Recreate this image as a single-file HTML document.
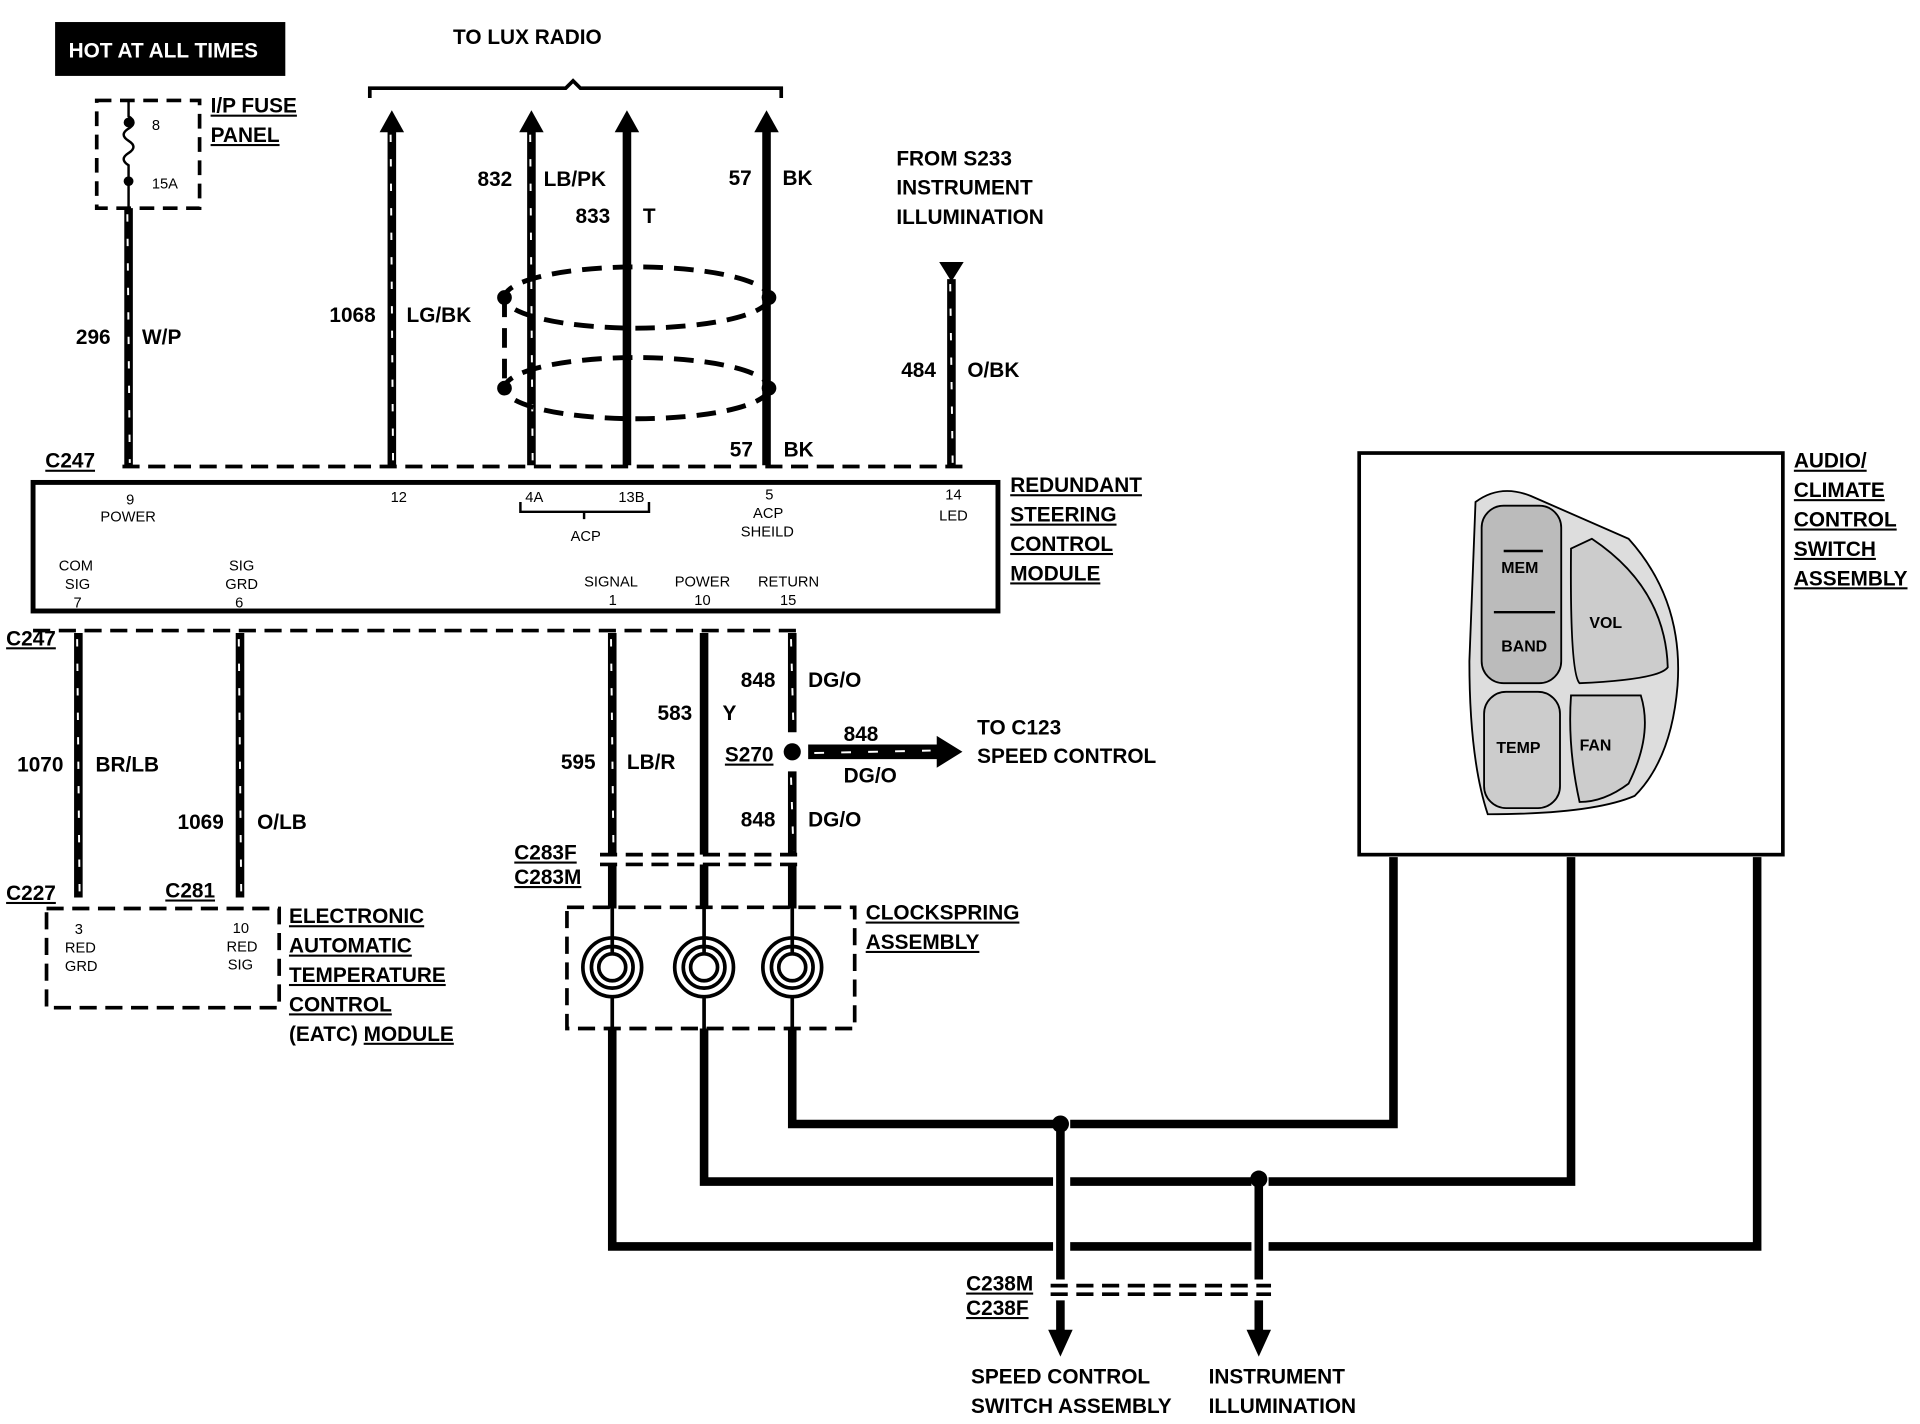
<!DOCTYPE html>
<html><head><meta charset="utf-8"><style>
html,body{margin:0;padding:0;background:#fff;}
svg{display:block;}
text{font-family:"Liberation Sans",sans-serif;font-weight:bold;fill:#000;}
.l{font-size:17px;}
.s{font-size:12px;font-weight:normal;}
.u{text-decoration:underline;}
</style></head><body>
<svg width="1920" height="1424" viewBox="0 0 1568 1163" preserveAspectRatio="none" xmlns="http://www.w3.org/2000/svg">
<defs>
<marker id="ar" markerWidth="6" markerHeight="6" refX="3" refY="3" orient="auto" markerUnits="userSpaceOnUse"></marker>
</defs>
<rect x="45" y="18" width="188" height="44" fill="#000"/>
<text x="56" y="47" style="fill:#fff" class="l" font-weight="normal">HOT AT ALL TIMES</text>
<text x="370" y="36" class="l">TO LUX RADIO</text>
<path d="M302 80 V72 H462 L468 66 L474 72 H638 V80" fill="none" stroke="#000" stroke-width="3"/>
<!-- fuse -->
<rect x="79" y="82" width="84" height="88" fill="none" stroke="#000" stroke-width="3" stroke-dasharray="12 7"/>
<path d="M105 82 V95 q8 5 0 10 q-8 5 0 10 q8 5 0 10 q-8 5 0 10 V170" fill="none" stroke="#000" stroke-width="2"/>
<circle cx="105" cy="100" r="4"/><circle cx="105" cy="148" r="4"/>
<text x="124" y="106" class="s">8</text><text x="124" y="154" class="s">15A</text>
<text x="172" y="92" class="l u">I/P FUSE</text><text x="172" y="116" class="l u">PANEL</text>
<g stroke="#000" stroke-width="7" fill="none">
<line x1="105" y1="170" x2="105" y2="380"/>
<line x1="320" y1="105" x2="320" y2="380"/>
<line x1="434" y1="105" x2="434" y2="380"/>
<line x1="512" y1="105" x2="512" y2="380"/>
<line x1="626" y1="105" x2="626" y2="380"/>
<line x1="777" y1="228" x2="777" y2="380"/>
<line x1="64" y1="517" x2="64" y2="733"/>
<line x1="196" y1="517" x2="196" y2="733"/>
<line x1="500" y1="517" x2="500" y2="698"/>
<line x1="575" y1="517" x2="575" y2="698"/>
<line x1="647" y1="517" x2="647" y2="598"/>
<line x1="647" y1="630" x2="647" y2="698"/>
<line x1="500" y1="706" x2="500" y2="742"/>
<line x1="575" y1="706" x2="575" y2="742"/>
<line x1="647" y1="706" x2="647" y2="742"/>
<path d="M647 840 V918 H860 M874 918 H1138 V700"/>
<path d="M575 840 V965 H860 M874 965 H1022 M1036 965 H1283 V700"/>
<path d="M500 840 V1018 H860 M874 1018 H1022 M1036 1018 H1435 V700"/>
<line x1="866" y1="918" x2="866" y2="1045"/>
<line x1="866" y1="1062" x2="866" y2="1088"/>
<line x1="1028" y1="963" x2="1028" y2="1045"/>
<line x1="1028" y1="1062" x2="1028" y2="1088"/>
</g>
<g fill="#000">
<polygon points="320,90 310,108 330,108"/><polygon points="434,90 424,108 444,108"/>
<polygon points="512,90 502,108 522,108"/><polygon points="626,90 616,108 636,108"/>
<polygon points="767,214 787,214 777,230"/>
<polygon points="866,1108 856,1086 876,1086"/><polygon points="1028,1108 1018,1086 1038,1086"/>
<circle cx="866" cy="918" r="7"/><circle cx="1028" cy="963" r="7"/><circle cx="647" cy="614" r="7"/>
<polygon points="660,608 765,608 765,601 786,614 765,627 765,620 660,620"/>
</g>
<!-- stripes -->
<g stroke="#fff" stroke-width="1.6" stroke-dasharray="6 14">
<line x1="104" y1="175" x2="106" y2="378"/><line x1="319" y1="110" x2="321" y2="378"/>
<line x1="433" y1="110" x2="435" y2="378"/><line x1="776" y1="232" x2="778" y2="378"/>
<line x1="63" y1="522" x2="65" y2="730"/><line x1="195" y1="522" x2="197" y2="730"/>
<line x1="499" y1="522" x2="501" y2="695"/><line x1="646" y1="522" x2="648" y2="595"/>
<line x1="646" y1="635" x2="648" y2="695"/>
<line x1="665" y1="615" x2="760" y2="613" stroke-dasharray="8 14"/>
</g>
<!-- shield ellipses -->
<g fill="none" stroke="#000" stroke-width="4" stroke-dasharray="16 9">
<ellipse cx="520" cy="243" rx="108" ry="25"/><ellipse cx="520" cy="317" rx="108" ry="25"/>
<line x1="412" y1="243" x2="412" y2="317"/>
</g>
<circle cx="412" cy="243" r="6"/><circle cx="412" cy="317" r="6"/><circle cx="628" cy="243" r="6"/><circle cx="628" cy="317" r="6"/>
<!-- dashed connectors -->
<g fill="none" stroke="#000" stroke-width="3" stroke-dasharray="14 7">
<line x1="100" y1="381" x2="790" y2="381"/>
<line x1="27" y1="515" x2="652" y2="515"/>
<line x1="490" y1="698" x2="658" y2="698"/>
<line x1="490" y1="706" x2="658" y2="706"/>
<line x1="858" y1="1050" x2="1038" y2="1050"/>
<line x1="858" y1="1057" x2="1038" y2="1057"/>
<rect x="38" y="742" width="190" height="81"/>
<rect x="463" y="741" width="235" height="99"/>
</g>
<rect x="27" y="394" width="788" height="105" fill="none" stroke="#000" stroke-width="4"/>
<!-- clockspring circles -->
<g fill="none" stroke="#000" stroke-width="3">
<circle cx="500" cy="790" r="24"/><circle cx="500" cy="790" r="17"/><circle cx="500" cy="790" r="11"/>
<circle cx="575" cy="790" r="24"/><circle cx="575" cy="790" r="17"/><circle cx="575" cy="790" r="11"/>
<circle cx="647" cy="790" r="24"/><circle cx="647" cy="790" r="17"/><circle cx="647" cy="790" r="11"/>
<line x1="500" y1="742" x2="500" y2="780"/><line x1="575" y1="742" x2="575" y2="780"/><line x1="647" y1="742" x2="647" y2="780"/>
<line x1="500" y1="814" x2="500" y2="842"/><line x1="575" y1="814" x2="575" y2="842"/><line x1="647" y1="814" x2="647" y2="842"/>
</g>
<!-- switch assembly -->
<rect x="1110" y="370" width="346" height="328" fill="#fff" stroke="#000" stroke-width="3"/>
<g stroke="#000" stroke-width="1.5" fill="#ddd">
<path d="M1205 410 Q1225 395 1250 405 L1330 440 Q1375 490 1370 560 Q1365 620 1335 650 Q1300 665 1215 665 Q1200 620 1200 540 Z"/>
<rect x="1210" y="413" width="65" height="145" rx="18" fill="#bbb"/>
<path d="M1283 448 L1300 440 Q1360 480 1362 545 Q1355 555 1290 558 Q1282 550 1283 448 Z" fill="#ccc"/>
<rect x="1212" y="565" width="62" height="95" rx="18" fill="#ccc"/>
<path d="M1283 568 L1340 568 Q1350 600 1330 640 Q1310 655 1290 655 Q1280 610 1283 568 Z" fill="#ccc"/>
</g>
<line x1="1220" y1="500" x2="1270" y2="500" stroke="#000" stroke-width="2"/>
<line x1="1228" y1="450" x2="1260" y2="450" stroke="#000" stroke-width="2"/>
<text x="1226" y="468" style="font-size:13px">MEM</text><text x="1226" y="532" style="font-size:13px">BAND</text>
<text x="1298" y="513" style="font-size:13px">VOL</text><text x="1222" y="615" style="font-size:13px">TEMP</text>
<text x="1290" y="613" style="font-size:13px">FAN</text>
<text x="1465" y="382" class="l u">AUDIO/</text><text x="1465" y="406" class="l u">CLIMATE</text>
<text x="1465" y="430" class="l u">CONTROL</text><text x="1465" y="454" class="l u">SWITCH</text>
<text x="1465" y="478" class="l u">ASSEMBLY</text>
<!-- labels -->
<text x="62" y="281" class="l">296</text><text x="116" y="281" class="l">W/P</text>
<text x="269" y="263" class="l">1068</text><text x="332" y="263" class="l">LG/BK</text>
<text x="390" y="152" class="l">832</text><text x="444" y="152" class="l">LB/PK</text>
<text x="470" y="182" class="l">833</text><text x="525" y="182" class="l">T</text>
<text x="595" y="151" class="l">57</text><text x="639" y="151" class="l">BK</text>
<text x="596" y="373" class="l">57</text><text x="640" y="373" class="l">BK</text>
<text x="732" y="135" class="l">FROM S233</text><text x="732" y="159" class="l">INSTRUMENT</text><text x="732" y="183" class="l">ILLUMINATION</text>
<text x="736" y="308" class="l">484</text><text x="790" y="308" class="l">O/BK</text>
<text x="37" y="382" class="l u">C247</text><text x="5" y="527" class="l u">C247</text>
<text x="825" y="402" class="l u">REDUNDANT</text><text x="825" y="426" class="l u">STEERING</text>
<text x="825" y="450" class="l u">CONTROL</text><text x="825" y="474" class="l u">MODULE</text>
<g class="s">
<text x="103" y="412" class="s">9</text><text x="82" y="426" class="s">POWER</text>
<text x="319" y="410" class="s">12</text>
<text x="429" y="410" class="s">4A</text><text x="505" y="410" class="s">13B</text>
<text x="466" y="442" class="s">ACP</text>
<text x="625" y="408" class="s">5</text><text x="615" y="423" class="s">ACP</text><text x="605" y="438" class="s">SHEILD</text>
<text x="772" y="408" class="s">14</text><text x="767" y="425" class="s">LED</text>
<text x="48" y="466" class="s">COM</text><text x="53" y="481" class="s">SIG</text><text x="60" y="496" class="s">7</text>
<text x="187" y="466" class="s">SIG</text><text x="184" y="481" class="s">GRD</text><text x="192" y="496" class="s">6</text>
<text x="477" y="479" class="s">SIGNAL</text><text x="497" y="494" class="s">1</text>
<text x="551" y="479" class="s">POWER</text><text x="567" y="494" class="s">10</text>
<text x="619" y="479" class="s">RETURN</text><text x="637" y="494" class="s">15</text>
<text x="61" y="763" class="s">3</text><text x="53" y="778" class="s">RED</text><text x="53" y="793" class="s">GRD</text>
<text x="190" y="762" class="s">10</text><text x="185" y="777" class="s">RED</text><text x="186" y="792" class="s">SIG</text>
</g>
<path d="M425 410 V418 H530 V410 M477 418 V424" fill="none" stroke="#000" stroke-width="2"/>
<text x="14" y="630" class="l">1070</text><text x="78" y="630" class="l">BR/LB</text>
<text x="145" y="677" class="l">1069</text><text x="210" y="677" class="l">O/LB</text>
<text x="5" y="735" class="l u">C227</text><text x="135" y="733" class="l u">C281</text>
<text x="236" y="754" class="l u">ELECTRONIC</text><text x="236" y="778" class="l u">AUTOMATIC</text>
<text x="236" y="802" class="l u">TEMPERATURE</text><text x="236" y="826" class="l u">CONTROL</text>
<text x="236" y="850" class="l">(EATC) <tspan class="u">MODULE</tspan></text>
<text x="458" y="628" class="l">595</text><text x="512" y="628" class="l">LB/R</text>
<text x="537" y="588" class="l">583</text><text x="590" y="588" class="l">Y</text>
<text x="605" y="561" class="l">848</text><text x="660" y="561" class="l">DG/O</text>
<text x="605" y="675" class="l">848</text><text x="660" y="675" class="l">DG/O</text>
<text x="592" y="622" class="l u">S270</text>
<text x="689" y="605" class="l">848</text><text x="689" y="639" class="l">DG/O</text>
<text x="798" y="600" class="l">TO C123</text><text x="798" y="623" class="l">SPEED CONTROL</text>
<text x="420" y="702" class="l u">C283F</text><text x="420" y="722" class="l u">C283M</text>
<text x="707" y="751" class="l u">CLOCKSPRING</text><text x="707" y="775" class="l u">ASSEMBLY</text>
<text x="789" y="1054" class="l u">C238M</text><text x="789" y="1074" class="l u">C238F</text>
<text x="793" y="1130" class="l">SPEED CONTROL</text><text x="793" y="1154" class="l">SWITCH ASSEMBLY</text>
<text x="987" y="1130" class="l">INSTRUMENT</text><text x="987" y="1154" class="l">ILLUMINATION</text>
</svg>
</body></html>
